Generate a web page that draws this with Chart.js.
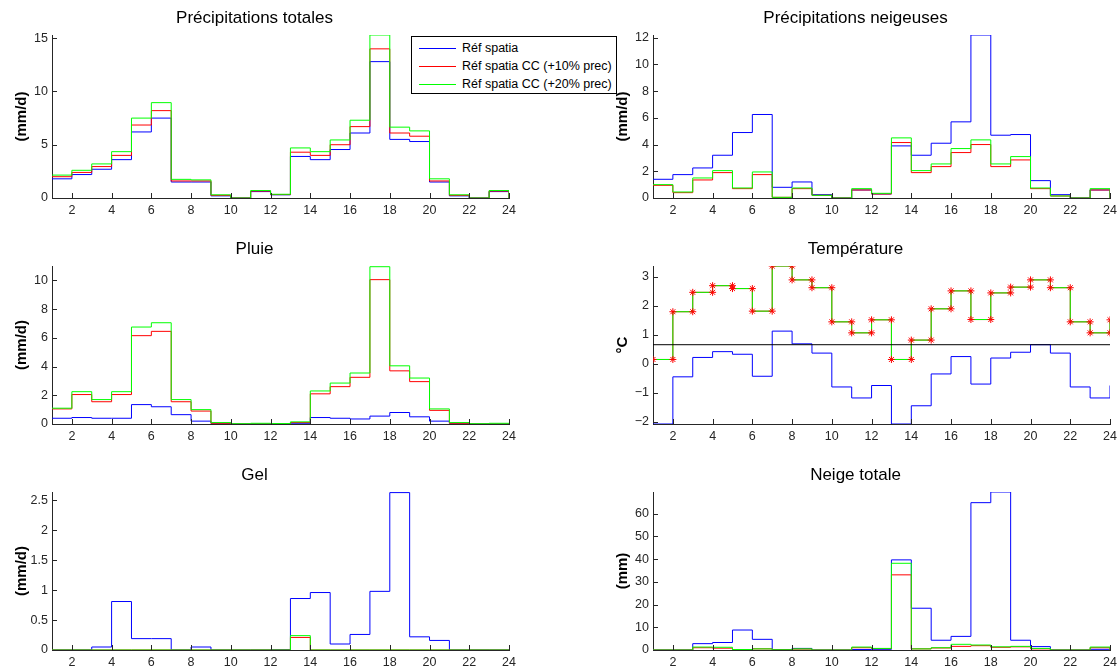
<!DOCTYPE html>
<html>
<head>
<meta charset="utf-8">
<script src="https://cdn.jsdelivr.net/npm/chart.js@4.4.0/dist/chart.umd.min.js"></script>
<style>
  body { margin: 0; width: 1117px; height: 667px; overflow: hidden; background: #fff; position: relative;
         font-family: 'Liberation Sans', Arial, sans-serif; }
  canvas { position: absolute; }
  #legende { position: absolute; left: 411px; top: 36px; width: 204px; height: 56px; border: 1px solid #000;
             background: #fff; font-size: 12.5px; color: #000; z-index: 5; }
  .entree { position: absolute; left: 0; height: 18px; line-height: 18px; white-space: nowrap; }
  .trait { display: inline-block; width: 37px; border-top: 1px solid; vertical-align: middle; margin: 0 6px 0 7px; }
</style>
</head>
<body>
<canvas id="c_tot" width="561" height="220" style="left:0;top:0"></canvas>
<canvas id="c_neig" width="561" height="220" style="left:601px;top:0"></canvas>
<canvas id="c_pluie" width="561" height="215" style="left:0;top:231px"></canvas>
<canvas id="c_temp" width="561" height="215" style="left:601px;top:231px"></canvas>
<canvas id="c_gel" width="561" height="215" style="left:0;top:457px"></canvas>
<canvas id="c_neigetot" width="561" height="215" style="left:601px;top:457px"></canvas>

<div id="legende">
  <div class="entree" style="top:2px"><span class="trait" style="border-color:#0000ff"></span>Réf spatia</div>
  <div class="entree" style="top:20px"><span class="trait" style="border-color:#ff0000"></span>Réf spatia CC (+10% prec)</div>
  <div class="entree" style="top:38px"><span class="trait" style="border-color:#00ff00"></span>Réf spatia CC (+20% prec)</div>
</div>

<script>
// pas de temps (axe x) et graduations
const mois = [1, 2, 3, 4, 5, 6, 7, 8, 9, 10, 11, 12, 13, 14, 15, 16, 17, 18, 19, 20, 21, 22, 23, 24]
const xTicks = [2, 4, 6, 8, 10, 12, 14, 16, 18, 20, 22, 24]

// Précipitations totales (mm/d)
const totRef  = [1.8, 2.2, 2.7, 3.6, 6.2, 7.5, 1.5, 1.5, 0.2, 0.0, 0.6, 0.3, 3.9, 3.6, 4.55, 6.1, 12.8, 5.5, 5.3, 1.5, 0.2, 0.0, 0.6, 0.0]
const totCC10 = [2.0, 2.4, 2.95, 4.0, 6.85, 8.2, 1.6, 1.6, 0.25, 0.0, 0.65, 0.32, 4.3, 4.0, 5.0, 6.7, 14.0, 6.1, 5.8, 1.6, 0.25, 0.0, 0.65, 0.0]
const totCC20 = [2.15, 2.6, 3.2, 4.35, 7.5, 8.95, 1.75, 1.7, 0.3, 0.0, 0.7, 0.35, 4.7, 4.35, 5.45, 7.3, 15.3, 6.65, 6.3, 1.8, 0.3, 0.0, 0.7, 0.0]
const ticksTot = [0, 5, 10, 15]

// Précipitations neigeuses (mm/d)
const neigRef  = [1.4, 1.75, 2.25, 3.2, 4.9, 6.25, 0.8, 1.2, 0.25, 0.0, 0.6, 0.3, 3.9, 3.2, 4.1, 5.7, 12.2, 4.7, 4.75, 1.3, 0.25, 0.0, 0.6, 0.0]
const neigCC10 = [0.95, 0.4, 1.35, 1.9, 0.7, 1.75, 0.05, 0.7, 0.2, 0.0, 0.6, 0.3, 4.15, 1.9, 2.35, 3.4, 4.0, 2.35, 2.85, 0.7, 0.15, 0.0, 0.6, 0.0]
const neigCC20 = [1.0, 0.45, 1.5, 2.05, 0.75, 1.95, 0.05, 0.75, 0.2, 0.0, 0.7, 0.35, 4.5, 2.05, 2.55, 3.7, 4.35, 2.55, 3.1, 0.75, 0.15, 0.0, 0.7, 0.0]
const ticksNeig = [0, 2, 4, 6, 8, 10, 12]

// Pluie (mm/d)
const pluieRef  = [0.4, 0.45, 0.4, 0.4, 1.35, 1.2, 0.65, 0.2, 0.05, 0.0, 0.0, 0.0, 0.05, 0.45, 0.4, 0.35, 0.55, 0.8, 0.5, 0.2, 0.05, 0.0, 0.0, 0.0]
const pluieCC10 = [1.05, 2.05, 1.55, 2.05, 6.15, 6.45, 1.55, 0.9, 0.05, 0.0, 0.0, 0.0, 0.1, 2.1, 2.6, 3.25, 10.05, 3.7, 2.95, 0.95, 0.05, 0.0, 0.0, 0.0]
const pluieCC20 = [1.1, 2.25, 1.7, 2.25, 6.75, 7.05, 1.7, 1.0, 0.1, 0.02, 0.05, 0.03, 0.15, 2.3, 2.85, 3.55, 10.95, 4.05, 3.2, 1.05, 0.1, 0.02, 0.05, 0.05]
const ticksPluie = [0, 2, 4, 6, 8, 10]

// Température (°C)
const tempRef = [-2.08, -0.45, 0.22, 0.42, 0.33, -0.43, 1.13, 0.69, 0.37, -0.8, -1.18, -0.75, -2.08, -1.45, -0.35, 0.25, -0.7, 0.2, 0.4, 0.66, 0.37, -0.8, -1.18, -0.75]
const tempCC  = [0.15, 1.8, 2.47, 2.7, 2.6, 1.82, 3.38, 2.9, 2.63, 1.45, 1.07, 1.52, 0.15, 0.82, 1.9, 2.52, 1.53, 2.45, 2.65, 2.9, 2.63, 1.45, 1.07, 1.52]
const tempSeuil = 0.66
const ticksTemp = [-2, -1, 0, 1, 2, 3]

// Gel (mm/d)
const gelRef  = [0, 0, 0.05, 0.81, 0.19, 0.19, 0, 0.05, 0, 0, 0, 0.005, 0.86, 0.96, 0.1, 0.26, 0.98, 2.63, 0.22, 0.16, 0, 0, 0, 0]
const gelCC10 = [0, 0, 0, 0, 0, 0, 0, 0, 0, 0, 0, 0, 0.21, 0, 0, 0, 0, 0, 0, 0, 0, 0, 0, 0]
const gelCC20 = [0, 0, 0, 0, 0, 0, 0, 0, 0, 0, 0, 0, 0.24, 0, 0, 0, 0, 0, 0, 0, 0, 0, 0, 0]
const ticksGel = [0, 0.5, 1, 1.5, 2, 2.5]

// Neige totale (mm)
const neigeTotRef  = [0, 0, 2.8, 3.3, 8.8, 4.7, 0.2, 0.7, 0, 0, 0.2, 0.3, 39.7, 18.4, 4.3, 6.0, 64.9, 69.6, 4.3, 1.5, 0, 0, 0.3, 0]
const neigeTotCC10 = [0, 0, 1.0, 0.8, 0.2, 0.5, 0.1, 0.4, 0, 0, 1.0, 0.6, 33.1, 0.5, 0.9, 1.6, 1.9, 1.2, 1.4, 0.5, 0, 0, 1.0, 0]
const neigeTotCC20 = [0, 0, 1.3, 1.2, 0.2, 0.5, 0.1, 0.5, 0, 0, 1.3, 0.7, 38.2, 0.5, 1.0, 2.5, 2.2, 1.4, 1.6, 0.7, 0, 0, 1.3, 0]
const ticksNeigeTot = [0, 10, 20, 30, 40, 50, 60]

const BLEU = '#0000ff', ROUGE = '#ff0000', VERT = '#00ff00'
const COULEUR_AXE = '#262626'

Chart.defaults.font.family = "'Liberation Sans', Arial, sans-serif"
Chart.defaults.font.size = 12.5
Chart.defaults.color = COULEUR_AXE
Chart.defaults.animation = false

// graduations vers l'intérieur (style matlab)
const ticksInterieurs = {
  id: 'ticksInterieurs',
  afterDraw(chart) {
    const { ctx, chartArea: a, scales: { x, y } } = chart
    ctx.save()
    ctx.strokeStyle = COULEUR_AXE
    ctx.lineWidth = 1
    ctx.beginPath()
    x.ticks.forEach((t) => {
      const px = Math.round(x.getPixelForValue(t.value)) + 0.5
      ctx.moveTo(px, a.bottom)
      ctx.lineTo(px, a.bottom - 5)
    })
    y.ticks.forEach((t) => {
      const py = Math.round(y.getPixelForValue(t.value)) + 0.5
      ctx.moveTo(a.left, py)
      ctx.lineTo(a.left + 5, py)
    })
    ctx.stroke()
    ctx.restore()
  }
}

// courbe en escalier (stairs)
function escalier(valeurs, couleur, ordre) {
  return {
    data: valeurs.map((v, i) => ({ x: mois[i], y: v })),
    borderColor: couleur,
    borderWidth: 1,
    pointRadius: 0,
    stepped: true,
    fill: false,
    order: ordre
  }
}

function graphique(id, titre, unite, datasets, yTicks, yMin, yMax) {
  return new Chart(document.getElementById(id), {
    type: 'line',
    data: { datasets: datasets },
    options: {
      responsive: false,
      animation: false,
      layout: { padding: { left: 0, right: 52, top: 0, bottom: 0 } },
      plugins: {
        legend: { display: false },
        tooltip: { enabled: false },
        title: {
          display: true,
          text: titre,
          color: '#000',
          font: { size: 17, weight: 'normal' },
          padding: { top: 7.8, bottom: 6.8 }
        }
      },
      scales: {
        x: {
          type: 'linear',
          min: 1,
          max: 24,
          grid: { display: false, drawTicks: false },
          border: { color: COULEUR_AXE },
          ticks: { padding: 5, maxRotation: 0, autoSkip: false, callback: (v) => String(v) },
          afterBuildTicks: (s) => { s.ticks = xTicks.map((v) => ({ value: v })) },
          afterFit: (s) => { s.height = 22 }
        },
        y: {
          type: 'linear',
          min: yMin,
          max: yMax,
          grid: { display: false, drawTicks: false },
          border: { color: COULEUR_AXE },
          title: {
            display: true,
            text: unite,
            color: '#000',
            font: { size: 15, weight: 'bold' },
            padding: { top: 13, bottom: 0 }
          },
          ticks: { padding: 4, autoSkip: false, callback: (v) => String(v).replace('-', '\u2212') },
          afterBuildTicks: (s) => { s.ticks = yTicks.map((v) => ({ value: v })) },
          afterFit: (s) => { s.width = 52 }
        }
      }
    },
    plugins: [ticksInterieurs]
  })
}

graphique('c_tot', 'Précipitations totales', '(mm/d)',
  [escalier(totRef, BLEU, 3), escalier(totCC10, ROUGE, 2), escalier(totCC20, VERT, 1)],
  ticksTot, 0, 15.3)

graphique('c_neig', 'Précipitations neigeuses', '(mm/d)',
  [escalier(neigRef, BLEU, 3), escalier(neigCC10, ROUGE, 2), escalier(neigCC20, VERT, 1)],
  ticksNeig, 0, 12.2)

graphique('c_pluie', 'Pluie', '(mm/d)',
  [escalier(pluieRef, BLEU, 3), escalier(pluieCC10, ROUGE, 2), escalier(pluieCC20, VERT, 1)],
  ticksPluie, 0, 11)

// coins de l'escalier pour les marqueurs '*'
const coinsTemp = []
tempCC.forEach((v, i) => {
  if (i > 0) coinsTemp.push({ x: mois[i], y: tempCC[i - 1] })
  coinsTemp.push({ x: mois[i], y: v })
})

graphique('c_temp', 'Température', '°C',
  [
    escalier(tempRef, BLEU, 4),
    escalier(tempCC, ROUGE, 3),
    escalier(tempCC, VERT, 2),
    {
      data: [{ x: mois[0], y: tempSeuil }, { x: mois[mois.length - 1], y: tempSeuil }],
      borderColor: '#000', borderWidth: 1, pointRadius: 0, fill: false, order: 1
    },
    {
      data: coinsTemp,
      showLine: false,
      pointStyle: 'star',
      pointRadius: 3.5,
      pointBorderColor: ROUGE,
      pointBackgroundColor: ROUGE,
      pointBorderWidth: 1,
      order: 0
    }
  ],
  ticksTemp, -2.08, 3.38)

graphique('c_gel', 'Gel', '(mm/d)',
  [escalier(gelRef, BLEU, 3), escalier(gelCC10, ROUGE, 2), escalier(gelCC20, VERT, 1)],
  ticksGel, 0, 2.64)

graphique('c_neigetot', 'Neige totale', '(mm)',
  [escalier(neigeTotRef, BLEU, 3), escalier(neigeTotCC10, ROUGE, 2), escalier(neigeTotCC20, VERT, 1)],
  ticksNeigeTot, 0, 69.6)
</script>
</body>
</html>
